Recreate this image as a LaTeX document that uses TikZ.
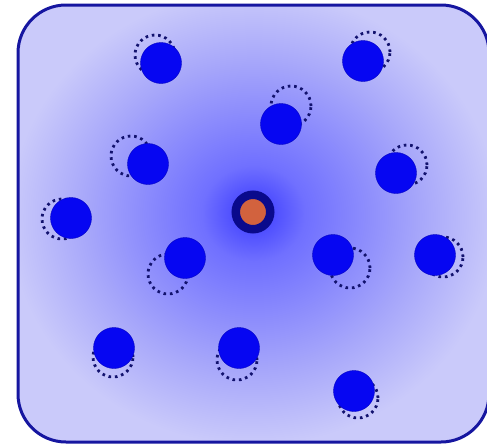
\documentclass[tikz,border=0pt]{standalone}
\usepackage{xcolor}
\usepackage{tikz}
\definecolor{glowin}{RGB}{56,56,255}
\definecolor{glowmid}{RGB}{112,112,255}
\definecolor{glowfar}{RGB}{168,168,250}
\definecolor{glowout}{RGB}{202,202,250}
\definecolor{frameblue}{RGB}{22,22,160}
\definecolor{atomblue}{RGB}{6,6,242}
\definecolor{ghostnavy}{RGB}{18,18,110}
\definecolor{coreorange}{RGB}{210,98,62}
\definecolor{coreblue}{RGB}{10,10,140}
\pgfdeclareradialshading{glow}{\pgfpoint{0bp}{1.3bp}}{%
  color(0bp)=(glowin); color(5.5bp)=(glowmid); color(18bp)=(glowfar);
  color(26bp)=(glowout); color(50bp)=(glowout)}
\tikzset{
  atom/.style={circle, fill=atomblue, draw=atomblue!80!black, line width=0.4pt,
               minimum size=41pt, inner sep=0pt},
  ghost/.style={circle, draw=ghostnavy, line width=2.8pt,
                dash pattern=on 2.6pt off 3.8pt, minimum size=40pt, inner sep=0pt},
  core/.style={circle, fill=coreorange, draw=coreblue, line width=8.5pt,
               minimum size=34.5pt, inner sep=0pt}
}

\begin{document}
\begin{tikzpicture}[x=1pt, y=-1pt]
\useasboundingbox (0,0) rectangle (487,447);

% Box with glow
\shade[shading=glow, draw=frameblue, line width=3pt, rounded corners=48pt]
  (18,5) rectangle (489,442);

% Old positions
\node[ghost] (g1)  at (155,55)  {};
\node[ghost] (g2)  at (370,52)  {};
\node[ghost] (g3)  at (291,106) {};
\node[ghost] (g4)  at (131,156) {};
\node[ghost] (g5)  at (407,165) {};
\node[ghost] (g6)  at (62,219)  {};
\node[ghost] (g7)  at (168,274) {};
\node[ghost] (g8)  at (350,268) {};
\node[ghost] (g9)  at (443,257) {};
\node[ghost] (g10) at (113,357) {};
\node[ghost] (g11) at (237,360) {};
\node[ghost] (g12) at (358,398) {};

% Atoms
\node[atom] (a1)  at (161,63)  {};
\node[atom] (a2)  at (363,61)  {};
\node[atom] (a3)  at (281,124) {};
\node[atom] (a4)  at (148,164) {};
\node[atom] (a5)  at (396,173) {};
\node[atom] (a6)  at (71,218)  {};
\node[atom] (a7)  at (185,258) {};
\node[atom] (a8)  at (333,255) {};
\node[atom] (a9)  at (435,255) {};
\node[atom] (a10) at (114,348) {};
\node[atom] (a11) at (239,348) {};
\node[atom] (a12) at (354,391) {};

% Centre
\node[core] (centre) at (253,212) {};

\end{tikzpicture}
\end{document}
